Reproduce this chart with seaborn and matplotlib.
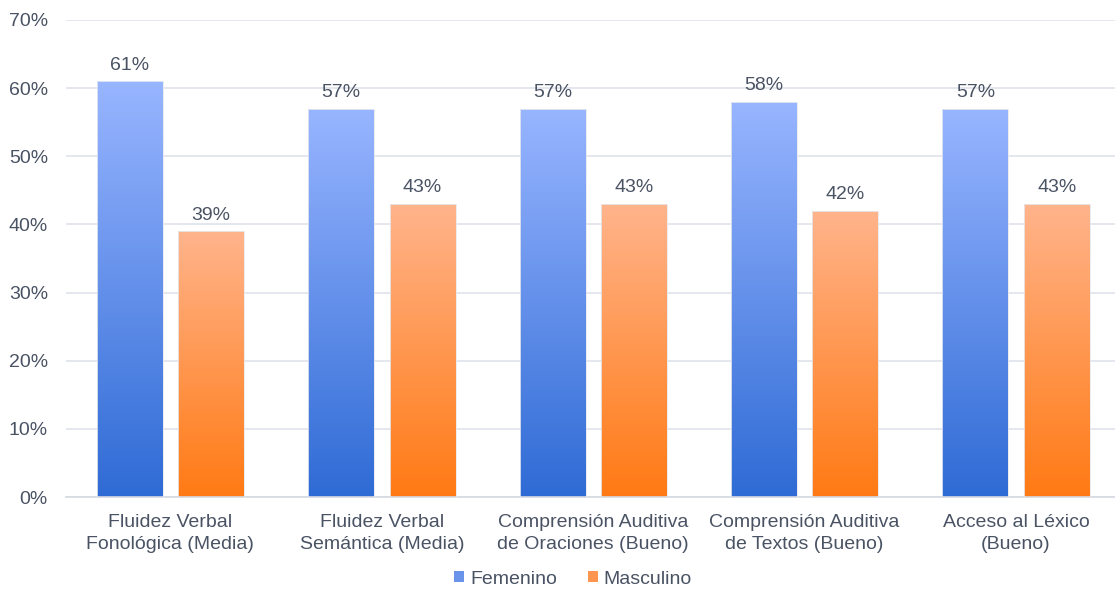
import numpy as np
import pandas as pd
import matplotlib
matplotlib.use("Agg")
import matplotlib.pyplot as plt
import seaborn as sns
from matplotlib.colors import LinearSegmentedColormap
from matplotlib.patches import Patch

categories = ["Fluidez Verbal\nFonológica (Media)",
              "Fluidez Verbal\nSemántica (Media)",
              "Comprensión Auditiva\nde Oraciones (Bueno)",
              "Comprensión Auditiva\nde Textos (Bueno)",
              "Acceso al Léxico\n(Bueno)"]
femenino = [61, 57, 57, 58, 57]
masculino = [39, 43, 43, 42, 43]
series = ["Femenino", "Masculino"]
yticks = [0, 10, 20, 30, 40, 50, 60, 70]

df = pd.DataFrame({
    "Categoria": categories * 2,
    "Sexo": ["Femenino"] * len(categories) + ["Masculino"] * len(categories),
    "Valor": femenino + masculino,
})

TEXT = "#4a5364"
GRID = "#dfe3ea"
grads = {
    "Femenino": ("#2f6bd5", "#98b5ff"),
    "Masculino": ("#ff7a14", "#ffb48c"),
}
mids = {"Femenino": "#6a93ea", "Masculino": "#ff9650"}

sns.set_theme(style="white")
plt.rcParams["font.family"] = ["Liberation Sans", "DejaVu Sans"]

fig = plt.figure(figsize=(11.15, 5.89), dpi=100)
ax = fig.add_axes([66 / 1115, 92 / 589, (1115 - 66) / 1115, (497 - 20) / 589])

sns.barplot(data=df, x="Categoria", y="Valor", hue="Sexo", order=categories,
            hue_order=series, palette=[mids[s] for s in series],
            width=0.77, gap=0.19, legend=False, ax=ax, edgecolor="none")

ax.set_ylim(0, 70)
ax.set_xlim(-0.494, 4.468)

# gradient fill per bar
bars = [p for p in ax.patches]
n = len(categories)
for i, p in enumerate(bars):
    s = series[i // n]
    cmap = LinearSegmentedColormap.from_list(s, list(grads[s]))
    x0, y0 = p.get_x(), p.get_y()
    w, h = p.get_width(), p.get_height()
    grad = np.linspace(0, 1, 256).reshape(-1, 1)
    im = ax.imshow(grad, cmap=cmap, aspect="auto", origin="lower",
                   extent=[x0, x0 + w, y0, y0 + h], zorder=2)
    im.set_clip_path(p)
    p.set_facecolor("none")
    p.set_edgecolor("#e6e9ee")
    p.set_linewidth(0.6)
    p.set_zorder(3)

for c, s in zip(ax.containers, series):
    ax.bar_label(c, labels=[f"{v:.0f}%" for v in c.datavalues], padding=5.5,
                 fontsize=14, color=TEXT)

ax.set_xlim(-0.494, 4.468)
ax.set_ylim(0, 70)
ax.set_yticks(yticks)
ax.set_yticklabels([f"{t}%" for t in yticks])
ax.yaxis.grid(True, color=GRID, linewidth=1.2)
ax.set_axisbelow(True)
ax.tick_params(axis="y", length=0, pad=13, labelsize=14, labelcolor=TEXT)
ax.tick_params(axis="x", length=0, pad=12.5, labelsize=14, labelcolor=TEXT)
for lbl in ax.get_xticklabels():
    lbl.set_linespacing(1.35)
ax.set_xlabel("")
ax.set_ylabel("")
for side in ["top", "right", "left"]:
    ax.spines[side].set_visible(False)
ax.spines["bottom"].set_color("#d5d9e0")
ax.spines["bottom"].set_linewidth(1.2)

handles = [Patch(facecolor=mids[s], edgecolor="none") for s in series]
fig.legend(handles, series, loc="center", bbox_to_anchor=(573 / 1115, 1 - 579 / 589),
           ncol=2, frameon=False, fontsize=14, labelcolor=TEXT,
           handlelength=0.5, handleheight=0.5, handletextpad=0.3,
           columnspacing=1.6)

fig.savefig("out.png", dpi=100)
